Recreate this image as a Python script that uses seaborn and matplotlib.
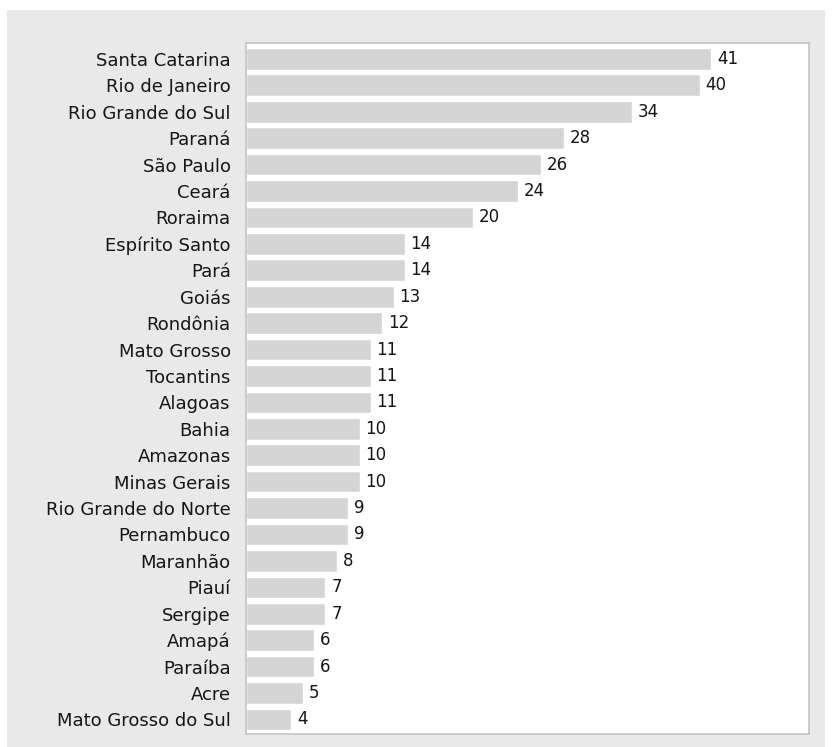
import matplotlib
matplotlib.use("Agg")
import matplotlib.pyplot as plt
from matplotlib.patches import Rectangle
import seaborn as sns
import pandas as pd

states = ["Santa Catarina", "Rio de Janeiro", "Rio Grande do Sul", "Paraná", "São Paulo",
          "Ceará", "Roraima", "Espírito Santo", "Pará", "Goiás", "Rondônia", "Mato Grosso",
          "Tocantins", "Alagoas", "Bahia", "Amazonas", "Minas Gerais", "Rio Grande do Norte",
          "Pernambuco", "Maranhão", "Piauí", "Sergipe", "Amapá", "Paraíba", "Acre",
          "Mato Grosso do Sul"]
values = [41, 40, 34, 28, 26, 24, 20, 14, 14, 13, 12, 11, 11, 11, 10, 10, 10, 9, 9, 8, 7, 7,
          6, 6, 5, 4]

df = pd.DataFrame({"estado": states, "valor": values})

sns.set_theme(style="white")
plt.rcParams["font.family"] = ["DejaVu Sans"]

W, H = 832, 747
fig = plt.figure(figsize=(W / 100, H / 100), dpi=100, facecolor="white")

# light gray panel behind the chart
fig.patches.append(Rectangle((7 / W, 0), (825 - 7) / W, 1 - 10 / H,
                             transform=fig.transFigure, facecolor="#e9e9e9",
                             edgecolor="none", zorder=-10))

ax = fig.add_axes([246 / W, 1 - 734 / H, (809 - 246) / W, (734 - 43) / H])
ax.set_zorder(5)
ax.set_facecolor("white")

sns.barplot(data=df, y="estado", x="valor", orient="h", color="#d4d4d4",
            saturation=1, width=0.82, ax=ax)

for i, v in enumerate(values):
    ax.text(v + 0.5, i, str(v), va="center", ha="left", fontsize=12, color="#151515")

ax.set_xlim(0, 49.6)
ax.set_ylim(len(values) - 0.45, -0.6)
ax.set_xlabel("")
ax.set_ylabel("")
ax.set_xticks([])
ax.tick_params(axis="y", length=0, pad=11, labelsize=13, labelcolor="#151515")

for side, sp in ax.spines.items():
    sp.set_visible(True)
    sp.set_color("#c4c4c4")
    sp.set_linewidth(1.2)

fig.savefig("out.png", dpi=100, facecolor="white")
